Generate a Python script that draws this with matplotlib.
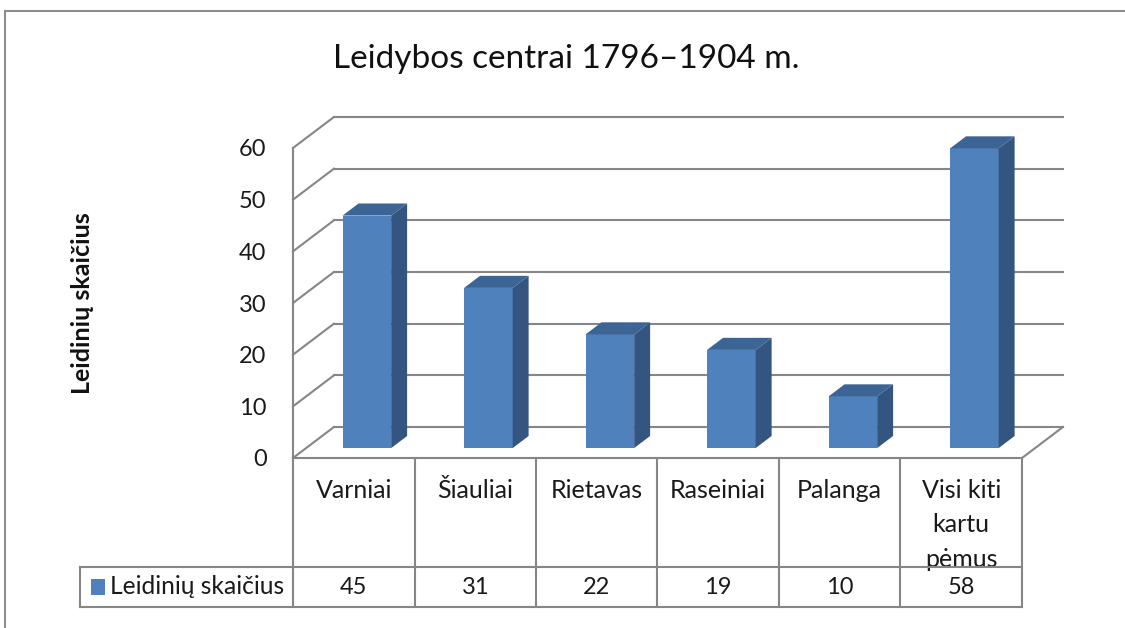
import matplotlib
matplotlib.use("Agg")
import matplotlib.pyplot as plt
import matplotlib.transforms as mtransforms
from matplotlib.lines import Line2D
from matplotlib.patches import Polygon, Rectangle

categories = ["Varniai", "Šiauliai", "Rietavas", "Raseiniai", "Palanga", "Visi kiti\nkartu\npėmus"]
values = [45, 31, 22, 19, 10, 58]
series_name = "Leidinių skaičius"
title = "Leidybos centrai 1796–1904 m."
yticks = [0, 10, 20, 30, 40, 50, 60]

W, H = 1125, 628
FRONT = "#4f81bd"
SIDE = "#33557f"
TOP = "#3c6595"
GRID = "#868686"

plt.rcParams["font.family"] = ["Lato", "DejaVu Sans"]

fig = plt.figure(figsize=(W / 100, H / 100), dpi=100)
ax = fig.add_axes([293 / W, 1 - 458 / H, 729 / W, 310 / H])
n = len(categories)
ax.set_xlim(0, n)
ax.set_ylim(0, 60)
for s in ax.spines.values():
    s.set_visible(False)
ax.set_xticks([])
ax.set_yticks(yticks)
ax.set_yticklabels([str(t) for t in yticks])
ax.tick_params(axis="y", length=0, pad=19, labelsize=17, labelcolor="#1a1a1a")

# depth of the 3d box (category units, value units)
DX, DY = 0.337, 6.0
# walls and gridlines
for k in yticks:
    ax.plot([DX, n + DX], [k + DY, k + DY], color=GRID, lw=1.5, clip_on=False, zorder=1)
    ax.plot([0, DX], [k, k + DY], color=GRID, lw=1.5, clip_on=False, zorder=1)
ax.plot([0, 0], [0, 60], color=GRID, lw=1.5, clip_on=False, zorder=1)
ax.plot([n, n + DX], [0, DY], color=GRID, lw=1.5, clip_on=False, zorder=1)

# bars
d0, d1 = 0.32, 0.71
bw = 0.4
for i, v in enumerate(values):
    x0 = i + 0.5 - bw / 2 + d0 * DX
    x1 = x0 + bw
    y0 = d0 * DY
    ox, oy = (d1 - d0) * DX, (d1 - d0) * DY
    ax.add_patch(Rectangle((x0, y0), bw, v, facecolor=FRONT, edgecolor="none", clip_on=False, zorder=3))
    ax.add_patch(Polygon([(x1, y0), (x1 + ox, y0 + oy), (x1 + ox, y0 + oy + v), (x1, y0 + v)],
                         facecolor=SIDE, edgecolor="none", clip_on=False, zorder=3))
    ax.add_patch(Polygon([(x0, y0 + v), (x1, y0 + v), (x1 + ox, y0 + oy + v), (x0 + ox, y0 + oy + v)],
                         facecolor=TOP, edgecolor="none", clip_on=False, zorder=3))

# data table under the chart
tr = mtransforms.blended_transform_factory(ax.transData, ax.transAxes)
r0, r1, r2 = 0.0, -109 / 310, -149 / 310
xl = -1.753
tl = dict(color=GRID, lw=1.5, clip_on=False, transform=tr, zorder=5)
ax.plot([0, n], [r0, r0], **tl)
ax.plot([xl, n], [r1, r1], **tl)
ax.plot([xl, n], [r2, r2], **tl)
ax.plot([xl, xl], [r1, r2], **tl)
for i in range(n + 1):
    ax.plot([i, i], [r0, r2], **tl)
for i, c in enumerate(categories):
    ax.text(i + 0.5, -0.068, c, transform=tr, ha="center", va="top", fontsize=18,
            linespacing=1.6, color="#1a1a1a", zorder=4)
for i, v in enumerate(values):
    ax.text(i + 0.5, (r1 + r2) / 2, str(v), transform=tr, ha="center", va="center",
            fontsize=17, color="#1a1a1a", zorder=4)
ax.add_patch(Rectangle((-1.663, -0.442), 0.116, 0.052, transform=tr, facecolor=FRONT,
                       edgecolor="none", clip_on=False))
ax.text(-1.51, (r1 + r2) / 2, series_name, transform=tr, ha="left", va="center",
        fontsize=17.7, color="#1a1a1a")

fig.text(566 / W, 1 - 68 / H, title, ha="center", va="baseline", fontsize=24, color="#111111")
fig.text(83 / W, 1 - 303 / H, series_name, ha="center", va="center", rotation=90,
         fontsize=18, fontweight="bold", color="#111111")

# outer chart border
fig.add_artist(Line2D([5 / W, 5 / W], [0, 1 - 11 / H], color="#8c8c8c", lw=1.5, transform=fig.transFigure))
fig.add_artist(Line2D([5 / W, 1], [1 - 11 / H, 1 - 11 / H], color="#8c8c8c", lw=1.5, transform=fig.transFigure))

fig.savefig("out.png", dpi=100)
